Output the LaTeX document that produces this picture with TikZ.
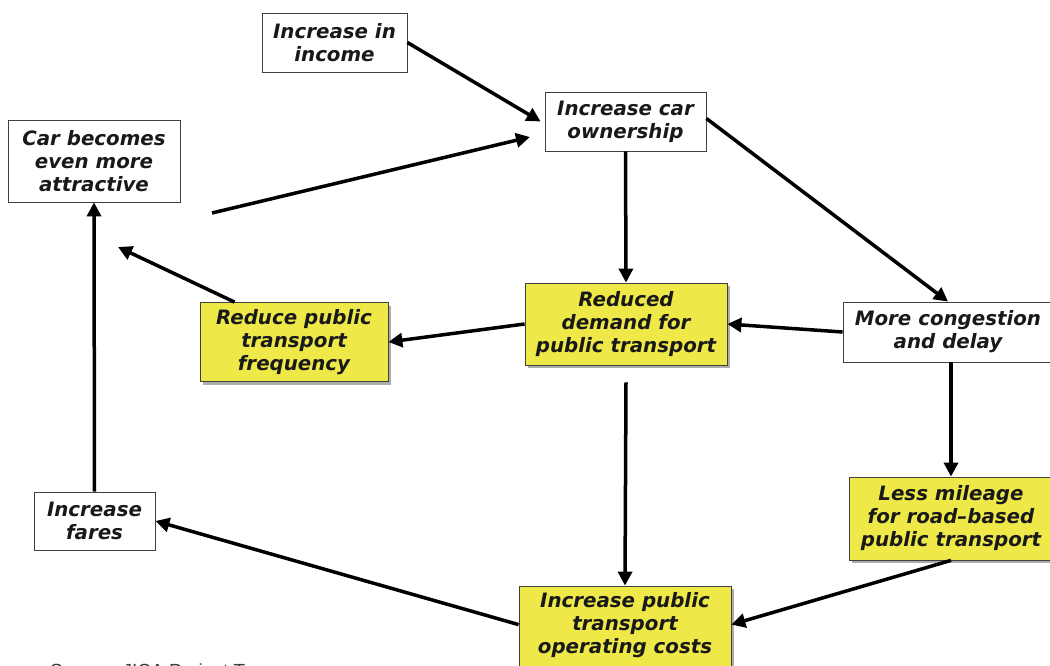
\documentclass[tikz,border=0pt]{standalone}
\usepackage{fontspec}
\setmainfont{DejaVu Sans}
\newfontfamily\srcfont{Liberation Sans}
\usetikzlibrary{arrows.meta,shadows,calc}
\definecolor{boxyellow}{RGB}{238,232,72}
\definecolor{srcgray}{RGB}{60,60,60}
\begin{document}
\begin{tikzpicture}[x=1pt,y=-1pt,
  box/.style={draw=black!75,line width=0.8pt,fill=white,align=center,inner sep=0pt,
    text=black!90,font=\fontsize{19.8}{23}\selectfont\bfseries\itshape},
  ybox/.style={box,fill=boxyellow,drop shadow={shadow xshift=3pt,shadow yshift=-3pt,fill=black!40,opacity=0.8}},
  arr/.style={line width=3.5pt,-{Triangle[length=14pt,width=14pt]}}]
\useasboundingbox (0,0) rectangle (1050,666);
\clip (0,0) rectangle (1050,666);
% nodes
\node[box,minimum width=145pt,minimum height=59pt] (inc) at (334.5,42.5) {Increase in\\income};
\node[box,minimum width=161pt,minimum height=59pt] (own) at (625.5,121.5) {Increase car\\ownership};
\node[box,minimum width=172pt,minimum height=82pt] (car) at (94,161) {Car becomes\\even more\\attractive};
\node[ybox,minimum width=188pt,minimum height=79pt] (freq) at (294,342) {Reduce public\\transport\\frequency};
\node[ybox,minimum width=202pt,minimum height=82pt] (dem) at (626,324) {Reduced\\demand for\\public transport};
\node[box,minimum width=210pt,minimum height=60pt] (cong) at (948,332) {More congestion\\and delay};
\node[ybox,minimum width=204pt,minimum height=83pt] (mile) at (951,518.5) {Less mileage\\for road--based\\public transport};
\node[ybox,minimum width=212pt,minimum height=90pt] (cost) at (625,631) {Increase public\\transport\\operating costs\\[-7pt]~};
\node[box,minimum width=121pt,minimum height=58pt] (fares) at (94.5,521) {Increase\\fares};
\node[anchor=base west,text=srcgray,font=\fontsize{19}{22}\selectfont\srcfont,inner sep=0pt] (src) at (50,677) {Source: JICA Project Team};
% free coordinates
\coordinate (p1) at (118,247);
\coordinate (p2) at (212,213);
\coordinate (p3) at (530,137);
\coordinate (dembot) at ($(dem.south)+(0,17)$);
\coordinate (costR) at ($(cost.north east)+(0,39)$);
\coordinate (costL) at ($(cost.north west)+(0,39)$);
% connectors
\draw[arr] (inc.east) -- ($(own.west)+(-4,0)$);
\draw[arr] (own.south) -- (dem.north);
\draw[arr] ($(own.east)+(0,-3)$) -- (cong.north);
\draw[arr] (cong.west) -- (dem.east);
\draw[arr] (dem.west) -- (freq.east);
\draw[arr] ($(freq.north west)+(35,0)$) -- (p1);
\draw[arr] (p2) -- (p3);
\draw[arr] (fares.north) -- (car.south);
\draw[arr] (dembot) -- (cost.north);
\draw[arr] (cong.south -| mile.north) -- (mile.north);
\draw[arr] (mile.south) -- (costR);
\draw[arr] (costL) -- (fares.east);
\end{tikzpicture}
\end{document}
